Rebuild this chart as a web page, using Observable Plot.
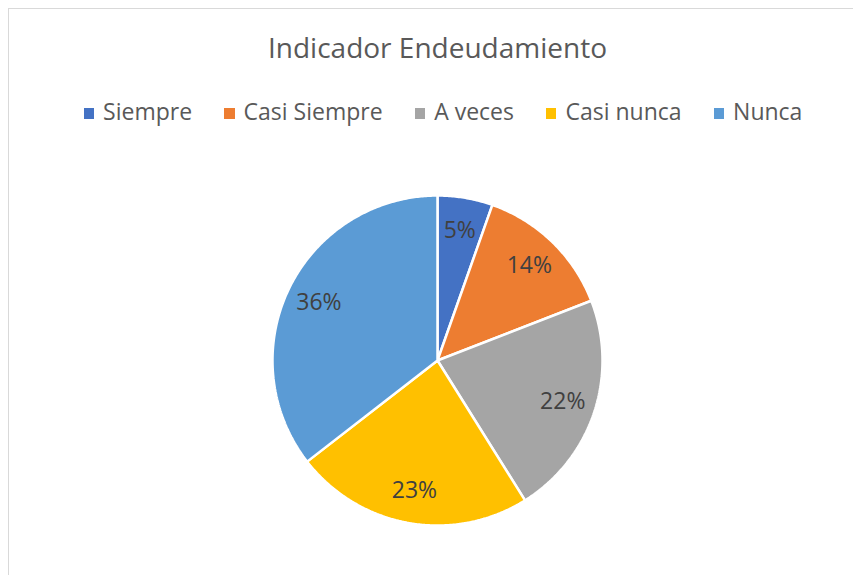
<!DOCTYPE html>
<html>
<head>
<meta charset="utf-8">
<script src="https://cdn.jsdelivr.net/npm/d3@7"></script>
<script src="https://cdn.jsdelivr.net/npm/@observablehq/plot@0.6"></script>
<style>
  body { margin: 0; background: #fff; font-family: "Open Sans", sans-serif; }
  #wrap { position: relative; width: 853px; height: 575px; overflow: hidden; background: #fff; }
  #frame { position: absolute; left: 8px; top: 8px; width: 900px; height: 620px; border: 1px solid #d9d9d9; box-sizing: border-box; }
  #title { position: absolute; left: 0; width: 875px; top: 28px; text-align: center; font-size: 28px; color: #595959; white-space: nowrap; line-height: normal; }
  #legend { position: absolute; left: 0; width: 886px; top: 95px; display: flex; justify-content: center; gap: 32px; font-size: 23px; color: #595959; white-space: nowrap; }
  .item { display: flex; align-items: center; }
  .sw { width: 10.5px; height: 10.5px; margin-right: 9px; position: relative; top: 2.5px; }
  #pie { position: absolute; left: 270px; top: 193px; }
</style>
</head>
<body>
<div id="wrap">
  <div id="frame"></div>
  <div id="title">Indicador Endeudamiento</div>
  <div id="legend"></div>
  <div id="pie"></div>
</div>
<script>
const categories = ["Siempre", "Casi Siempre", "A veces", "Casi nunca", "Nunca"];
const values = [5.4, 13.7, 22.0, 23.4, 35.5];
const colors = ["#4472C4", "#ED7D31", "#A5A5A5", "#FFC000", "#5B9BD5"];

// legend
const leg = document.getElementById("legend");
categories.forEach((c, i) => {
  const it = document.createElement("div");
  it.className = "item";
  const sw = document.createElement("span");
  sw.className = "sw";
  sw.style.background = colors[i];
  const tx = document.createElement("span");
  tx.textContent = c;
  it.appendChild(sw); it.appendChild(tx);
  leg.appendChild(it);
});

const total = d3.sum(values);
const arcs = d3.pie().sort(null).value(d => d)(values);

// polygons for each slice in unit coordinates (y up)
const pts = [];
arcs.forEach((a, i) => {
  const cat = categories[i];
  pts.push({cat, x: 0, y: 0});
  const n = Math.max(2, Math.ceil((a.endAngle - a.startAngle) / 0.01));
  for (let k = 0; k <= n; k++) {
    const t = a.startAngle + (a.endAngle - a.startAngle) * k / n;
    pts.push({cat, x: Math.sin(t), y: Math.cos(t)});
  }
  pts.push({cat, x: 0, y: 0});
});

const labels = arcs.map((a, i) => {
  const m = (a.startAngle + a.endAngle) / 2;
  return {cat: categories[i], x: 0.8 * Math.sin(m), y: 0.8 * Math.cos(m), text: Math.round(values[i] / total * 100) + "%"};
});

const R = 165, M = 2;
const chart = Plot.plot({
  width: 2 * R + 2 * M,
  height: 2 * R + 2 * M,
  margin: M,
  x: {domain: [-1, 1], axis: null},
  y: {domain: [-1, 1], axis: null},
  color: {domain: categories, range: colors},
  style: {overflow: "visible", background: "transparent"},
  marks: [
    Plot.line(pts, {x: "x", y: "y", z: "cat", fill: "cat", stroke: "white", strokeWidth: 2.5, strokeLinejoin: "miter", curve: "linear"}),
    Plot.text(labels, {x: "x", y: "y", text: "text", fill: "#404040", fontSize: 23, fontFamily: "Open Sans"})
  ]
});
document.getElementById("pie").appendChild(chart);
</script>
</body>
</html>
